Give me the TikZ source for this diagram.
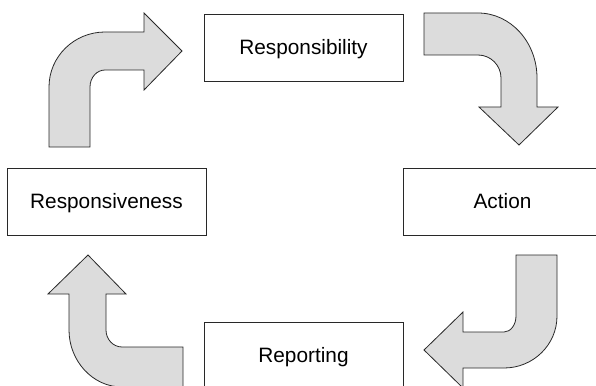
\documentclass[tikz,border=0pt]{standalone}
\usepackage{fontspec}
\setmainfont{Liberation Sans}
\definecolor{arrowfill}{RGB}{220,220,220}
\definecolor{edge}{RGB}{40,40,40}
\begin{document}
\begin{tikzpicture}[x=1pt,y=-1pt,
  stagebox/.style={draw=edge,line width=0.9pt,fill=white,minimum width=199pt,
    minimum height=67pt,inner sep=0pt,text height=14.5pt,text depth=0pt,
    font=\fontsize{20.8}{24}\selectfont},
  bentarrow/.style={draw=edge,line width=0.8pt,fill=arrowfill,line join=miter}]
\useasboundingbox (0,0) rectangle (596,385);
\clip (0,0) rectangle (596,385);

% the four stages of the cycle
\node[stagebox] (resp)   at (303.5,47.5)  {Responsibility};
\node[stagebox] (action) at (502.5,201.5) {Action};
\node[stagebox] (report) at (303.5,355.5) {Reporting};
\node[stagebox] (rsv)    at (106.5,201.5) {Responsiveness};

% Responsiveness -> Responsibility
\draw[bentarrow] (49,147) -- (49,87) .. controls (49,56.6) and (74.1,32) .. (105,32)
  -- (144,32) -- (144,13) -- (182,51) -- (144,90) -- (144,70) -- (105,70)
  .. controls (96.7,70) and (90,77.6) .. (90,87) -- (90,147) -- cycle;

% Responsibility -> Action
\draw[bentarrow] (424,13) -- (478,13) .. controls (510.6,13) and (537,42.1) .. (537,78)
  -- (537,107) -- (558,107) -- (519,145) -- (479,107) -- (501,107) -- (501,78)
  .. controls (501,65.3) and (490.7,55) .. (478,55) -- (424,55) -- cycle;

% Action -> Reporting
\draw[bentarrow] (516,255) -- (557,255) -- (557,316)
  .. controls (557,344.7) and (533.3,368) .. (504,368)
  -- (463,368) -- (463,388) -- (424,350) -- (463,312) -- (463,332) -- (504,332)
  .. controls (510.6,332) and (516,324.8) .. (516,316) -- cycle;

% Reporting -> Responsiveness
\draw[bentarrow] (183,347) -- (122,347) .. controls (113.2,347) and (106,339.4) .. (106,330)
  -- (106,294) -- (126,294) -- (88,255) -- (48,294) -- (69,294) -- (69,330)
  .. controls (69,360.9) and (92.7,387) .. (122,387) -- (183,387) -- cycle;
\end{tikzpicture}
\end{document}
